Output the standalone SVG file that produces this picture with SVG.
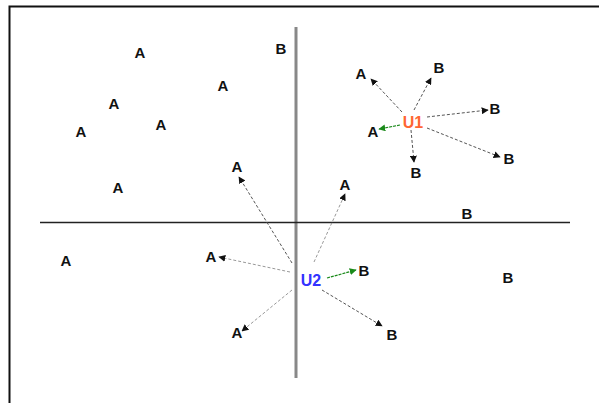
<svg xmlns="http://www.w3.org/2000/svg" width="599" height="403" viewBox="0 0 599 403">
<style>
.lbl{font-family:"Liberation Sans",Arial,sans-serif;font-weight:bold;font-size:15px;text-anchor:middle;fill:#111}
.u1{fill:#ff6633;font-size:16px}
.u2{fill:#3333ff;font-size:16px}
.d{fill:none;stroke:#555;stroke-width:1;stroke-dasharray:3,2}
.dl{fill:none;stroke:#999;stroke-width:1;stroke-dasharray:3,2}
.g{fill:none;stroke:#1a8a1a;stroke-width:1.2;stroke-dasharray:3,1}
</style>
<defs>
<marker id="ah" viewBox="0 0 10 10" refX="9" refY="5" markerWidth="7" markerHeight="7" markerUnits="userSpaceOnUse" orient="auto">
<path d="M0,0 L10,5 L0,10 z" fill="#111"/>
</marker>
<marker id="ag" viewBox="0 0 10 10" refX="9" refY="5" markerWidth="7" markerHeight="7" markerUnits="userSpaceOnUse" orient="auto">
<path d="M0,0 L10,5 L0,10 z" fill="#1a8a1a"/>
</marker>
</defs>
<rect width="599" height="403" fill="#fff"/>
<g id="frame">
<path d="M9.5,403 L9.5,6.5 L599,6.5" fill="none" stroke="#111" stroke-width="2"/>
</g>
<g id="axes">
<line x1="296" y1="27" x2="296" y2="378" stroke="#888" stroke-width="3"/>
<line x1="40" y1="222.5" x2="570" y2="222.5" stroke="#222" stroke-width="1.5"/>
</g>
<g id="connectors">
<line class="d" x1="402" y1="112" x2="371" y2="79" marker-end="url(#ah)"/>
<line class="d" x1="414" y1="110" x2="431" y2="78" marker-end="url(#ah)"/>
<line class="d" x1="427" y1="117" x2="488" y2="110" marker-end="url(#ah)"/>
<line class="d" x1="427" y1="128" x2="500" y2="157" marker-end="url(#ah)"/>
<line class="d" x1="411" y1="130" x2="414" y2="162" marker-end="url(#ah)"/>
<line class="g" x1="400" y1="125" x2="379" y2="129" marker-end="url(#ag)"/>
<line class="d" x1="292" y1="263" x2="239" y2="177" marker-end="url(#ah)"/>
<line class="dl" x1="314" y1="262" x2="345" y2="194" marker-end="url(#ah)"/>
<line class="dl" x1="290" y1="272" x2="219" y2="257" marker-end="url(#ah)"/>
<line class="g" x1="327" y1="278" x2="356" y2="270" marker-end="url(#ag)"/>
<line class="dl" x1="292" y1="290" x2="242" y2="331" marker-end="url(#ah)"/>
<line class="d" x1="322" y1="290" x2="382" y2="326" marker-end="url(#ah)"/>
</g>
<g id="points">
<text class="lbl" x="140" y="58">A</text>
<text class="lbl" x="281" y="54">B</text>
<text class="lbl" x="223" y="91">A</text>
<text class="lbl" x="114" y="109">A</text>
<text class="lbl" x="161" y="130">A</text>
<text class="lbl" x="81" y="137">A</text>
<text class="lbl" x="118" y="193">A</text>
<text class="lbl" x="237" y="172">A</text>
<text class="lbl" x="361" y="79">A</text>
<text class="lbl" x="439" y="73">B</text>
<text class="lbl" x="495" y="114">B</text>
<text class="lbl" x="373" y="137">A</text>
<text class="lbl" x="416" y="178">B</text>
<text class="lbl" x="509" y="164">B</text>
<text class="lbl" x="345" y="190">A</text>
<text class="lbl" x="467" y="219">B</text>
<text class="lbl" x="66" y="266">A</text>
<text class="lbl" x="211" y="262">A</text>
<text class="lbl" x="364" y="276">B</text>
<text class="lbl" x="508" y="283">B</text>
<text class="lbl" x="237" y="338">A</text>
<text class="lbl" x="392" y="340">B</text>
</g>
<g id="U1"><text class="lbl u1" x="413" y="128">U1</text></g>
<g id="U2"><text class="lbl u2" x="311" y="286">U2</text></g>
</svg>
